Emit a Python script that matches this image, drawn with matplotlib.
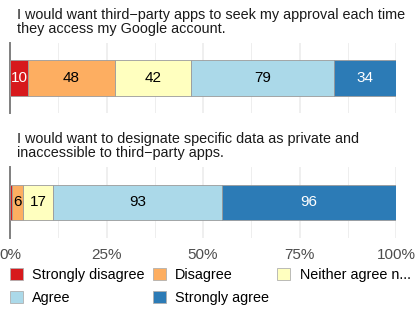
import matplotlib
matplotlib.use("Agg")
import matplotlib.pyplot as plt
from matplotlib.patches import Patch
import numpy as np

plt.rcParams['font.family'] = ['Liberation Sans', 'DejaVu Sans']

categories = ["Strongly disagree", "Disagree", "Neither agree n...", "Agree", "Strongly agree"]
colors = ["#d7191c", "#fdae61", "#ffffbf", "#abd9e9", "#2c7bb6"]
text_colors = ["white", "black", "black", "black", "white"]

questions = [
    "I would want third\u2212party apps to seek my approval each time\nthey access my Google account.",
    "I would want to designate specific data as private and\ninaccessible to third\u2212party apps.",
]
q1_counts = [10, 48, 42, 79, 34]
q2_counts = [1, 6, 17, 93, 96]
all_counts = [q1_counts, q2_counts]

tick_vals = [0, 25, 50, 75, 100]
tick_labels = ["0%", "25%", "50%", "75%", "100%"]

W, H = 415, 312
fig = plt.figure(figsize=(W / 100, H / 100), dpi=100)

# panel pixel boxes: (top, bottom)
panels = [(43, 113), (167, 238)]
title_tops = [8, 132]
x0, x1 = 10, 396

for i, (q, counts, (pt, pb), tt) in enumerate(zip(questions, all_counts, panels, title_tops)):
    ax = fig.add_axes([x0 / W, 1 - pb / H, (x1 - x0) / W, (pb - pt) / H])
    counts = np.array(counts, dtype=float)
    pct = counts / counts.sum() * 100
    lefts = np.concatenate([[0], np.cumsum(pct)[:-1]])
    for j in range(len(counts)):
        ax.barh(0, pct[j], left=lefts[j], height=0.9, color=colors[j],
                edgecolor="#9a9a9a", linewidth=0.6, zorder=3)
        if counts[j] >= 5:
            ax.text(lefts[j] + pct[j] / 2, 0, f"{int(counts[j])}", ha="center", va="center",
                    fontsize=11, color=text_colors[j], zorder=4)
    ax.set_xlim(0, 100)
    ax.set_ylim(-0.9, 0.9)
    ax.set_yticks([])
    ax.set_xticks(tick_vals)
    ax.set_xticks([12.5, 37.5, 62.5, 87.5], minor=True)
    ax.grid(True, axis="x", which="major", color="#ebebeb", linewidth=1.1, zorder=0)
    ax.grid(True, axis="x", which="minor", color="#ebebeb", linewidth=0.6, zorder=0)
    ax.tick_params(axis="both", which="both", length=0)
    if i == 1:
        ax.set_xticklabels(tick_labels, fontsize=11, color="#4d4d4d")
        ax.tick_params(axis="x", pad=7)
    else:
        ax.set_xticklabels([])
    for s in ["top", "right", "bottom"]:
        ax.spines[s].set_visible(False)
    ax.spines["left"].set_color("#7f7f7f")
    ax.spines["left"].set_linewidth(1.4)
    ax.set_facecolor("none")
    fig.text(17 / W, 1 - tt / H, q, ha="left", va="top", fontsize=10.4, color="#1a1a1a",
             linespacing=1.0)

handles = [Patch(facecolor=c, edgecolor="#b0b0b0", linewidth=0.6) for c in colors]
order = [0, 3, 1, 4, 2]
fig.legend([handles[k] for k in order], [categories[k] for k in order],
           ncol=3, loc="upper left", bbox_to_anchor=(10 / W, 1 - 268 / H),
           frameon=False, fontsize=10.4, handlelength=0.9, handleheight=0.9,
           handletextpad=0.65, columnspacing=0.55, labelspacing=0.6,
           borderpad=0, borderaxespad=0)

fig.savefig("out.png", dpi=100, facecolor="white")
